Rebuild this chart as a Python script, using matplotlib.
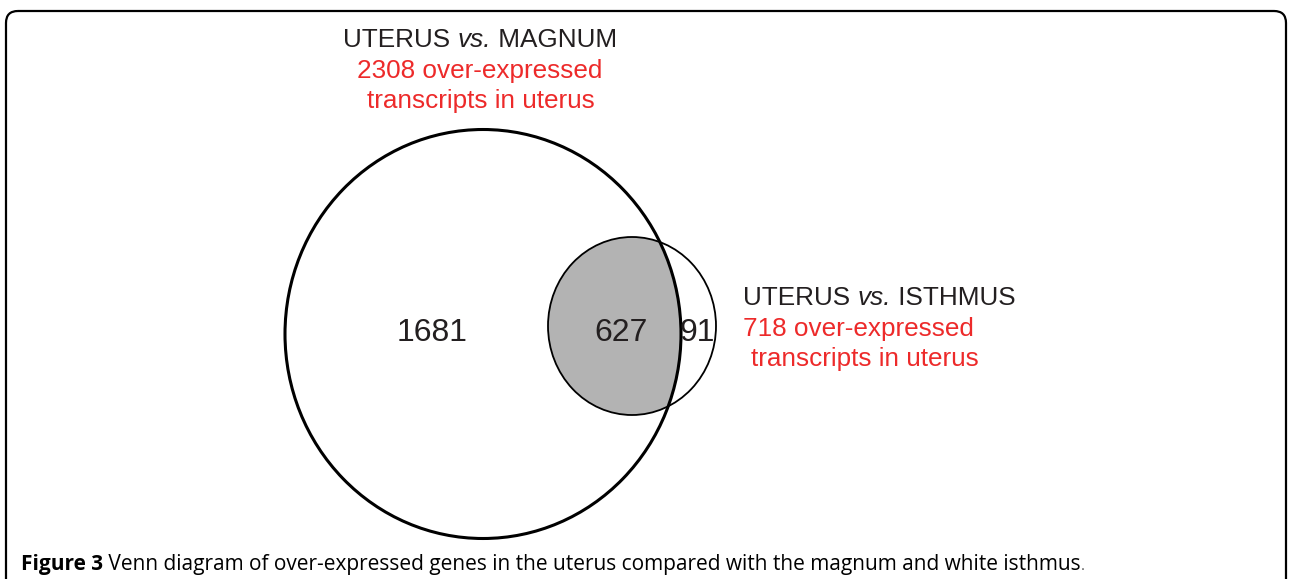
import matplotlib
matplotlib.use("Agg")
import matplotlib.pyplot as plt
from matplotlib.patches import Ellipse, FancyBboxPatch

plt.rcParams['font.family'] = ['Liberation Sans', 'DejaVu Sans']

#%% data
sets = ['MAGNUM', 'ISTHMUS']
set_totals = [2308, 718]
only_magnum = 1681
shared = 627
only_isthmus = 91
caption_bold = 'Figure 3'
caption_text = (' Venn diagram of over-expressed genes in the uterus compared'
                ' with the magnum and white isthmus')

# layout (pixels, y down)
W, H = 1290, 579
big = dict(xy=(483, 334), w=396, h=409)
small = dict(xy=(632, 326), w=168, h=178)
dark = '#231f20'
red = '#ed2a2a'

fig = plt.figure(figsize=(W / 100, H / 100), dpi=100)
ax = fig.add_axes([0, 0, 1, 1])
ax.set_xlim(0, W)
ax.set_ylim(H, 0)
ax.axis('off')
r = fig.canvas.get_renderer()


#%% writes pieces of text one after the other, returns the end x
def pieces(x, y, parts, **kw):
    for txt, extra in parts:
        opts = dict(kw)
        opts.update(extra)
        t = ax.text(x, y, txt, ha='left', va='baseline', **opts)
        bb = t.get_window_extent(r)
        x = ax.transData.inverted().transform((bb.x1, bb.y0))[0]
    return x


def width(parts, **kw):
    x1 = pieces(0, -100, parts, **kw)
    for t in ax.texts[-len(parts):]:
        t.remove()
    return x1


# frame
frame = FancyBboxPatch((6, 11), 1280, 600, boxstyle='round,pad=0,rounding_size=12',
                       fc='none', ec='black', lw=1.6)
ax.add_patch(frame)

# big circle and the shaded overlap
e_big = Ellipse(big['xy'], big['w'], big['h'], fc='none', ec='black', lw=2.2, zorder=3)
e_fill = Ellipse(small['xy'], small['w'], small['h'], fc='#b3b3b3', ec='none', zorder=1)
e_small = Ellipse(small['xy'], small['w'], small['h'], fc='none', ec='black', lw=1.3, zorder=2)
ax.add_patch(e_big)
ax.add_patch(e_fill)
ax.add_patch(e_small)
clip = Ellipse(big['xy'], big['w'], big['h'], fc='none', ec='none', transform=ax.transData)
e_fill.set_clip_path(clip)

# counts
fs_num = 23
ax.text(432, 333, str(only_magnum), fontsize=fs_num, color=dark, ha='center', va='center')
ax.text(621, 333, str(shared), fontsize=fs_num, color=dark, ha='center', va='center')
ax.text(697, 333, str(only_isthmus), fontsize=fs_num, color=dark, ha='center', va='center')

# set labels
fs_lab = 18.8


def vs_parts(name):
    return [('UTERUS ', {}), ('vs.', {'fontstyle': 'italic'}), (' ' + name, {})]


lab = dict(fontsize=fs_lab, color=dark)
p1 = vs_parts(sets[0])
pieces(480 - width(p1, **lab) / 2, 47, p1, **lab)
ax.text(480, 78, '%d over-expressed' % set_totals[0], fontsize=fs_lab, color=red,
        ha='center', va='baseline')
ax.text(481, 108, 'transcripts in uterus', fontsize=fs_lab, color=red, ha='center',
        va='baseline')

pieces(743, 305, vs_parts(sets[1]), **lab)
ax.text(743, 336, '%d over-expressed' % set_totals[1], fontsize=fs_lab, color=red,
        ha='left', va='baseline')
ax.text(751, 366, 'transcripts in uterus', fontsize=fs_lab, color=red, ha='left',
        va='baseline')

# caption
cap = dict(fontsize=15, family='Open Sans', color='black')
xe = pieces(21, 570, [(caption_bold, {'fontweight': 'bold'}), (caption_text, {})], **cap)
ax.text(xe, 570, '.', fontsize=11, family='Open Sans', ha='left', va='baseline',
        color='#555555')

fig.savefig('out.png', dpi=100)
